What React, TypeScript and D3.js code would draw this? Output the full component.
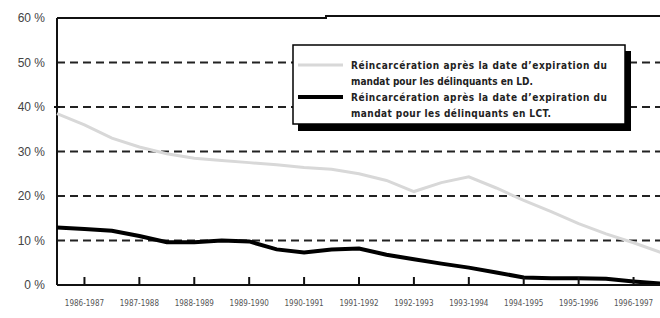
import * as d3 from 'd3';
import { useEffect, useRef } from 'react';

// fiscal years shown on the x axis
const years = [
  '1986-1987', '1987-1988', '1988-1989', '1989-1990', '1990-1991', '1991-1992',
  '1992-1993', '1993-1994', '1994-1995', '1995-1996', '1996-1997',
];

// positions along the axis, in years (half-year steps)
const steps = [0, 0.5, 1, 1.5, 2, 2.5, 3, 3.5, 4, 4.5, 5, 5.5, 6, 6.5, 7, 7.5, 8, 8.5, 9, 9.5, 10, 10.5, 11];

// re-incarceration rates (%)
const ldValues = [38.5, 36, 33, 31, 29.5, 28.5, 28, 27.5, 27, 26.4, 26, 25, 23.5, 21, 23, 24.3, 21.8, 19, 16.5, 13.8, 11.5, 9.5, 7.3];
const lctValues = [12.9, 12.6, 12.2, 11, 9.6, 9.6, 10, 9.8, 8, 7.3, 8, 8.2, 6.8, 5.8, 4.8, 3.9, 2.8, 1.7, 1.5, 1.5, 1.4, 0.8, 0.3];

const yTicks = [0, 10, 20, 30, 40, 50, 60];
const gridTicks = [10, 20, 30, 40, 50];

const legendLines = [
  ['Réincarcération après la date d\u2019expiration du', 'mandat pour les délinquants en LD.'],
  ['Réincarcération après la date d\u2019expiration du', 'mandat pour les délinquants en LCT.'],
];
const legendWidths = [[256, 182], [256, 200]];

const W = 660;
const H = 318;

const App = () => {
  const svgRef = useRef(null);

  useEffect(() => {
    const svg = d3.select(svgRef.current);
    svg.selectAll('*').remove();

    const left = 57, right = 661, top = 18, bottom = 285;

    const x = d3.scaleLinear().domain([0, years.length]).range([left, right]);
    const band = d3.scaleBand().domain(years).range([left, right]);
    const y = d3.scaleLinear().domain([0, 60]).range([bottom, top]);

    // dashed gridlines
    svg.append('g')
      .selectAll('line')
      .data(gridTicks)
      .enter()
      .append('line')
      .attr('x1', left)
      .attr('x2', W)
      .attr('y1', d => y(d))
      .attr('y2', d => y(d))
      .attr('stroke', '#222')
      .attr('stroke-width', 2)
      .attr('stroke-dasharray', '8,5');

    // frame: top border with a small step, left axis
    svg.append('path')
      .attr('d', `M${left},${y(60)}H326V${y(60) - 2}H${W}`)
      .attr('fill', 'none')
      .attr('stroke', '#111')
      .attr('stroke-width', 2);

    svg.append('line')
      .attr('x1', left).attr('x2', left)
      .attr('y1', y(60)).attr('y2', y(0))
      .attr('stroke', '#111').attr('stroke-width', 2);

    // small cross tick at 40 %
    svg.append('line')
      .attr('x1', left - 3).attr('x2', left + 3)
      .attr('y1', y(40)).attr('y2', y(40))
      .attr('stroke', '#111').attr('stroke-width', 2);

    // y labels
    svg.append('g')
      .selectAll('text')
      .data(yTicks)
      .enter()
      .append('text')
      .attr('x', 45)
      .attr('y', d => y(d))
      .attr('dy', '0.36em')
      .attr('text-anchor', 'end')
      .attr('font-family', 'Liberation Sans, Arial, sans-serif')
      .attr('font-size', 12)
      .attr('fill', '#444')
      .text(d => `${d} %`);

    // lines
    const line = d3.line()
      .x((d, i) => x(steps[i]))
      .y(d => y(d));

    svg.append('path')
      .datum(ldValues)
      .attr('d', line)
      .attr('fill', 'none')
      .attr('stroke', '#d8d8d8')
      .attr('stroke-width', 3);

    svg.append('path')
      .datum(lctValues)
      .attr('d', line)
      .attr('fill', 'none')
      .attr('stroke', '#000')
      .attr('stroke-width', 4);

    // x axis with inward ticks
    svg.append('line')
      .attr('x1', left).attr('x2', W)
      .attr('y1', y(0)).attr('y2', y(0))
      .attr('stroke', '#111').attr('stroke-width', 2);

    svg.append('g')
      .selectAll('line')
      .data(years)
      .enter()
      .append('line')
      .attr('x1', d => band(d) + band.bandwidth() / 2)
      .attr('x2', d => band(d) + band.bandwidth() / 2)
      .attr('y1', y(0))
      .attr('y2', y(0) - 8)
      .attr('stroke', '#111')
      .attr('stroke-width', 2);

    svg.append('g')
      .selectAll('text')
      .data(years)
      .enter()
      .append('text')
      .attr('x', d => band(d) + band.bandwidth() / 2)
      .attr('y', 303)
      .attr('dy', '0.35em')
      .attr('text-anchor', 'middle')
      .attr('font-family', 'Liberation Sans Narrow, DejaVu Sans Condensed, Arial, sans-serif')
      .attr('font-size', 8)
      .attr('fill', '#555')
      .text(d => d);

    // legend with drop shadow
    const lg = svg.append('g');
    lg.append('rect')
      .attr('x', 298).attr('y', 51)
      .attr('width', 333).attr('height', 80)
      .attr('fill', '#000');
    lg.append('rect')
      .attr('x', 293).attr('y', 45)
      .attr('width', 332).attr('height', 79)
      .attr('fill', '#fff')
      .attr('stroke', '#000')
      .attr('stroke-width', 1.5);

    const swatches = [
      { color: '#d8d8d8', width: 3, y: 65 },
      { color: '#000', width: 4, y: 97 },
    ];
    swatches.forEach((s, i) => {
      lg.append('line')
        .attr('x1', 298).attr('x2', 343)
        .attr('y1', s.y).attr('y2', s.y)
        .attr('stroke', s.color)
        .attr('stroke-width', s.width);
      legendLines[i].forEach((t, j) => {
        lg.append('text')
          .attr('x', 351)
          .attr('y', s.y + j * 16.5)
          .attr('dy', '0.36em')
          .attr('font-family', 'Liberation Sans Narrow, DejaVu Sans Condensed, Arial, sans-serif')
          .attr('font-weight', 'bold')
          .attr('font-size', 10)
          .attr('textLength', legendWidths[i][j])
          .attr('lengthAdjust', 'spacing')
          .attr('fill', '#222')
          .text(t);
      });
    });
  }, []);

  return (
    <svg
      ref={svgRef}
      width={W}
      height={H}
      style={{ position: 'absolute', left: 0, top: 0, background: '#fff' }}
    ></svg>
  );
};

export default App;
